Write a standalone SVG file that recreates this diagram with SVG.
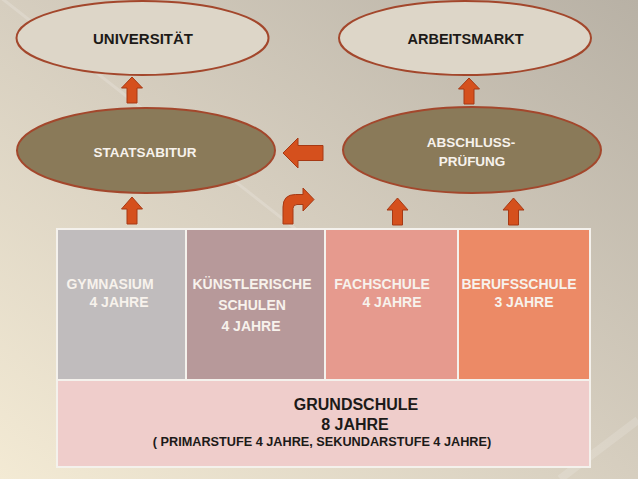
<svg xmlns="http://www.w3.org/2000/svg" width="638" height="479" viewBox="0 0 638 479">
<defs>
<linearGradient id="bg" x1="1" y1="0" x2="0" y2="1">
<stop offset="0" stop-color="#b8b1a5"/>
<stop offset="0.5" stop-color="#d6cebf"/>
<stop offset="1" stop-color="#f3ead4"/>
</linearGradient>
<style>
.t{font-family:"Liberation Sans",Arial,sans-serif;font-weight:bold;text-anchor:middle}
.dk{fill:#1c1a18}
.wh{fill:#f7f2ec}
.el-light{fill:#ddd6c8;stroke:#a3472c;stroke-width:2}
.el-dark{fill:#8a7a59;stroke:#a3472c;stroke-width:2}
.arr{fill:#d5501d;stroke:#a63914;stroke-width:1;stroke-linejoin:round}
.cell{stroke:#f4f1ec;stroke-width:2}
</style>
</defs>
<rect width="638" height="479" fill="url(#bg)"/>
<line x1="0" y1="-3" x2="330" y2="256" stroke="#ffffff" stroke-opacity="0.18" stroke-width="3"/>
<line x1="560" y1="479" x2="638" y2="420" stroke="#ffffff" stroke-opacity="0.15" stroke-width="8"/>

<g id="universitaet">
<ellipse class="el-light" cx="142.5" cy="38" rx="126" ry="37"/>
<text class="t dk" x="143" y="43.5" font-size="15">UNIVERSITÄT</text>
</g>
<g id="arbeitsmarkt">
<ellipse class="el-light" cx="465" cy="38" rx="126" ry="37"/>
<text class="t dk" x="465.5" y="43.5" font-size="14.5">ARBEITSMARKT</text>
</g>
<g id="staatsabitur">
<ellipse class="el-dark" cx="146" cy="150.5" rx="129" ry="42.5"/>
<text class="t wh" x="145" y="156.5" font-size="13.5">STAATSABITUR</text>
</g>
<g id="abschlusspruefung">
<ellipse class="el-dark" cx="472" cy="150" rx="129" ry="43"/>
<text class="t wh" x="471" y="147" font-size="13.5">ABSCHLUSS-</text>
<text class="t wh" x="472" y="166" font-size="13.5">PRÜFUNG</text>
</g>

<g id="gymnasium">
<rect class="cell" x="57" y="229" width="129" height="151" fill="#c0bcbd"/>
<text class="t wh" x="110" y="289" font-size="14">GYMNASIUM</text>
<text class="t wh" x="119" y="307" font-size="14">4 JAHRE</text>
</g>
<g id="kuenstlerische-schulen">
<rect class="cell" x="186" y="229" width="139" height="151" fill="#b7999a"/>
<text class="t wh" x="252" y="289" font-size="14">KÜNSTLERISCHE</text>
<text class="t wh" x="252" y="310" font-size="14">SCHULEN</text>
<text class="t wh" x="251" y="331" font-size="14">4 JAHRE</text>
</g>
<g id="fachschule">
<rect class="cell" x="325" y="229" width="133" height="151" fill="#e69a8e"/>
<text class="t wh" x="382" y="289" font-size="14">FACHSCHULE</text>
<text class="t wh" x="392" y="307" font-size="14">4 JAHRE</text>
</g>
<g id="berufsschule">
<rect class="cell" x="458" y="229" width="132" height="151" fill="#ec8a66"/>
<text class="t wh" x="519" y="289" font-size="14">BERUFSSCHULE</text>
<text class="t wh" x="524" y="307" font-size="14">3 JAHRE</text>
</g>
<g id="grundschule">
<rect class="cell" x="57" y="380" width="533" height="87" fill="#efcdcb"/>
<text class="t dk" x="356" y="410" font-size="16">GRUNDSCHULE</text>
<text class="t dk" x="355" y="430" font-size="16">8 JAHRE</text>
<text class="t dk" x="322" y="446" font-size="12.7">( PRIMARSTUFE 4 JAHRE, SEKUNDARSTUFE 4 JAHRE)</text>
</g>

<g id="connectors">
<path class="arr" d="M132,77 L142.5,88 L137,88 L137,103 L127,103 L127,88 L121.5,88 Z"/>
<path class="arr" d="M469,78 L479.5,89 L474,89 L474,104 L464,104 L464,89 L458.5,89 Z"/>
<path class="arr" d="M132,197 L142.5,209 L137,209 L137,224 L127,224 L127,209 L121.5,209 Z"/>
<path class="arr" d="M397.5,198 L408,210 L402.5,210 L402.5,225 L392.5,225 L392.5,210 L387,210 Z"/>
<path class="arr" d="M513.5,198 L524,210 L518.5,210 L518.5,225 L508.5,225 L508.5,210 L503,210 Z"/>
<path class="arr" d="M283,153 L298,138 L298,145.5 L323,145.5 L323,160.5 L298,160.5 L298,168 Z"/>
<path class="arr" d="M283,224 L283,207 Q283,194.5 295.5,194.5 L303,194.5 L303,188 L314,199.5 L303,211 L303,204.5 L297,204.5 Q293,204.5 293,208.5 L293,224 Z"/>
</g>
</svg>
